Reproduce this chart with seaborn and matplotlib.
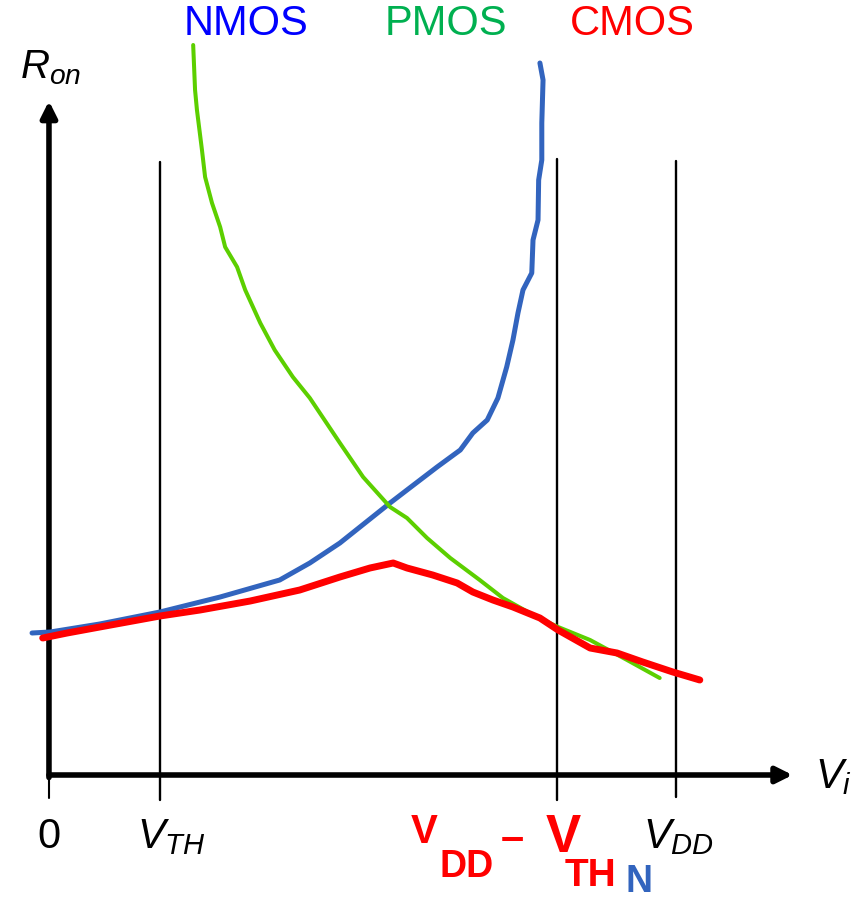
import numpy as np
import pandas as pd
import matplotlib
matplotlib.use("Agg")
import matplotlib.pyplot as plt
import seaborn as sns

# On-resistance versus input voltage (Vi in units of VDD, Ron in arbitrary units)
nmos_vi = [-0.027, 0.002, 0.081, 0.177, 0.273, 0.368, 0.416, 0.464, 0.496, 0.544,
           0.571, 0.619, 0.656, 0.676, 0.699, 0.716, 0.730, 0.740, 0.748, 0.756,
           0.770, 0.772, 0.780, 0.781, 0.786, 0.786, 0.788, 0.783]
nmos_ron = [1.42, 1.43, 1.51, 1.63, 1.78, 1.95, 2.12, 2.32, 2.48, 2.72,
            2.85, 3.08, 3.25, 3.42, 3.55, 3.77, 4.08, 4.35, 4.62, 4.85,
            5.02, 5.35, 5.55, 5.95, 6.15, 6.52, 6.95, 7.12]

pmos_vi = [0.230, 0.233, 0.236, 0.244, 0.249, 0.260, 0.273, 0.281, 0.300, 0.313,
           0.337, 0.360, 0.389, 0.416, 0.464, 0.501, 0.544, 0.571, 0.603, 0.640,
           0.687, 0.724, 0.778, 0.812, 0.863, 0.922, 0.974]
pmos_ron = [7.30, 6.85, 6.65, 6.25, 5.98, 5.72, 5.48, 5.28, 5.08, 4.85,
            4.52, 4.25, 3.98, 3.77, 3.32, 2.98, 2.68, 2.57, 2.37, 2.17,
            1.95, 1.77, 1.58, 1.48, 1.35, 1.15, 0.97]

cmos_vi = [-0.010, 0.029, 0.081, 0.177, 0.241, 0.321, 0.400, 0.464, 0.512, 0.549,
           0.571, 0.612, 0.651, 0.676, 0.708, 0.740, 0.783, 0.812, 0.863, 0.906,
           0.947, 0.995, 1.038]
cmos_ron = [1.37, 1.42, 1.48, 1.59, 1.65, 1.74, 1.85, 1.98, 2.07, 2.12,
            2.07, 2.00, 1.92, 1.83, 1.75, 1.68, 1.57, 1.45, 1.27, 1.22,
            1.13, 1.03, 0.95]

# Marked input voltages on the Vi axis
v_th = 0.177
v_dd_minus_vthn = 0.810
v_dd = 1.0
tick_labels = ["0", r"$V_{TH}$", r"$V_{DD}$"]
tick_label_x = [0.0, 0.140, 0.947]

series_names = ["NMOS", "PMOS", "CMOS"]
line_colors = ["#3264BE", "#5CCF00", "#FF0000"]
title_colors = ["#0000FF", "#00B050", "#FF0000"]
line_widths = [3.6, 2.9, 5.0]
title_x = [0.314, 0.633, 0.931]

sns.set_theme(style="white")
plt.rcParams["font.family"] = ["Liberation Sans", "DejaVu Sans"]
plt.rcParams["text.color"] = "black"
plt.rcParams["mathtext.fontset"] = "custom"
plt.rcParams["mathtext.rm"] = "Liberation Sans"
plt.rcParams["mathtext.it"] = "Liberation Sans:italic"

fig = plt.figure(figsize=(8.6, 9.01), dpi=100)
ax = fig.add_axes([0, 0, 1, 1])
ax.set_xlim(-0.0781, 1.2935)
ax.set_ylim(-1.26, 7.75)
ax.axis("off")


def px(x_pix, y_pix):
    """Convert a position on the 860x901 canvas to Vi/Ron units."""
    return (x_pix - 49) / 627, (775 - y_pix) / 100


# Vertical guide lines at the marked voltages
ax.plot([v_th, v_th], [6.13, -0.25], color="black", lw=1.7, zorder=1)
ax.plot([v_dd_minus_vthn, v_dd_minus_vthn], [6.16, -0.25], color="black", lw=1.7, zorder=1)
ax.plot([v_dd, v_dd], [6.14, -0.22], color="black", lw=1.7, zorder=1)
ax.plot([0.0, 0.0], [0.0, -0.23], color="black", lw=1.5, zorder=1)

# Axes with arrow heads
arrow_style = dict(arrowstyle="-|>", lw=4, color="black", mutation_scale=24,
                   shrinkA=0, shrinkB=0)
ax.annotate("", xy=(0.0, 6.74), xytext=(0.0, -0.025), arrowprops=arrow_style, zorder=2)
ax.annotate("", xy=(1.186, 0.0), xytext=(0.0, 0.0), arrowprops=arrow_style, zorder=2)

# Resistance curves
curves = [(nmos_vi, nmos_ron), (pmos_vi, pmos_ron), (cmos_vi, cmos_ron)]
for (vi, ron), name, col, lw in zip(curves, series_names, line_colors, line_widths):
    df = pd.DataFrame({"Vi": vi, "Ron": ron})
    sns.lineplot(data=df, x="Vi", y="Ron", sort=False, estimator=None, ax=ax,
                 color=col, lw=lw, solid_capstyle="round", solid_joinstyle="round",
                 zorder=3)

# Series names across the top
for name, x, col in zip(series_names, title_x, title_colors):
    ax.text(x, 7.51, name, color=col, fontsize=30, ha="center", va="center")

# Axis titles
ax.text(-0.046, 6.97, r"$R_{on}$", fontsize=29, ha="left", va="baseline")
ax.text(1.222, -0.13, r"$V_i$", fontsize=30, ha="left", va="baseline")

# Tick labels under the Vi axis
for x, lab in zip(tick_label_x, tick_labels):
    ha = "center" if lab == "0" else "left"
    ax.text(x, -0.73, lab, fontsize=30, ha=ha, va="baseline")

# Hand-written annotation for VDD - VTHN
hand = dict(fontweight="bold", va="baseline", ha="left")
ax.text(*px(411, 843), "V", color="#FF0000", fontsize=29, **hand)
ax.text(*px(440, 877), "DD", color="#FF0000", fontsize=27, **hand)
ax.text(*px(501, 850), "–", color="#FF0000", fontsize=30, **hand)
ax.text(*px(546, 852), "V", color="#FF0000", fontsize=38, **hand)
ax.text(*px(565, 886), "TH", color="#FF0000", fontsize=28, **hand)
ax.text(*px(626, 892), "N", color="#3264BE", fontsize=27, **hand)

fig.savefig("out.png", dpi=100)
